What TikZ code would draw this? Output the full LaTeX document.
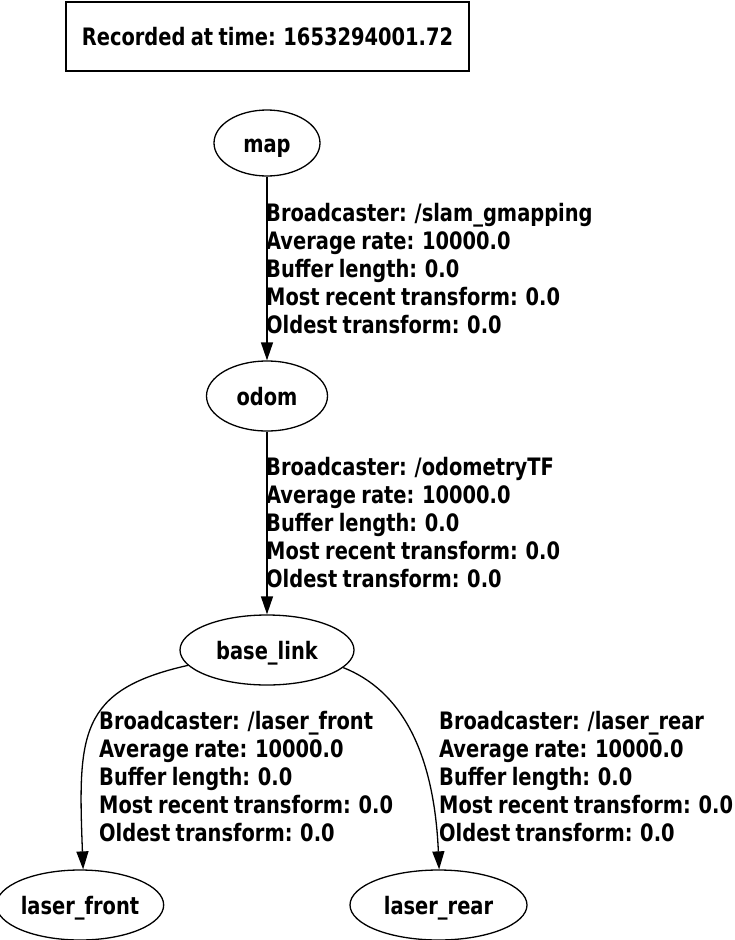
\documentclass[tikz,border=0pt]{standalone}
\usepackage{fontspec}
\newfontfamily\lbl{DejaVu Sans Condensed Bold}[FakeStretch=0.9,WordSpace=0.8]
\newcommand\tflabel[1]{Broadcaster: /#1\\Average rate: 10000.0\\Buffer length: 0.0\\Most recent transform: 0.0\\Oldest transform: 0.0}
\usetikzlibrary{shapes.geometric,arrows.meta}
\begin{document}
\begin{tikzpicture}[x=1pt,y=-1pt,
  every node/.style={font=\lbl\fontsize{24}{28}\selectfont},
  frame/.style={ellipse,draw,line width=1.3pt,inner sep=0,text height=19.5pt,text depth=1.1pt},
  elabel/.style={align=left,inner sep=0,anchor=north west},
  edge/.style={draw,line width=1.3pt,-{Triangle[length=18pt,width=12pt]}}]
\useasboundingbox (0,0) rectangle (735,940);
\node[draw,line width=1.3pt,minimum width=403pt,minimum height=69pt,inner sep=0] (title) at (267.5,36.5) {Recorded at time: 1653294001.72};
\node[frame,minimum width=106pt,minimum height=66pt] (map) at (267,143) {map};
\node[frame,minimum width=121pt,minimum height=70pt] (odom) at (267,396) {odom};
\node[frame,minimum width=174pt,minimum height=70pt] (base) at (267,650) {base\_link};
\node[frame,minimum width=160pt,minimum height=70pt] (lf) at (80,905) {laser\_front};
\node[frame,minimum width=177pt,minimum height=70pt] (lr) at (438.5,905) {laser\_rear};
\path[edge] (map) -- (odom);
\path[edge] (odom) -- (base);
\path[edge] (base.191) .. controls (78,690) and (78,735) .. (lf.85);
\path[edge] (base.347) .. controls (400,690) and (434,750) .. (lr.89);
\node[elabel] (l1) at (266,203) {\tflabel{slam\_gmapping}};
\node[elabel] (l2) at (266,457) {\tflabel{odometryTF}};
\node[elabel] (l3) at (99,711) {\tflabel{laser\_front}};
\node[elabel] (l4) at (439,711) {\tflabel{laser\_rear}};
\end{tikzpicture}
\end{document}
